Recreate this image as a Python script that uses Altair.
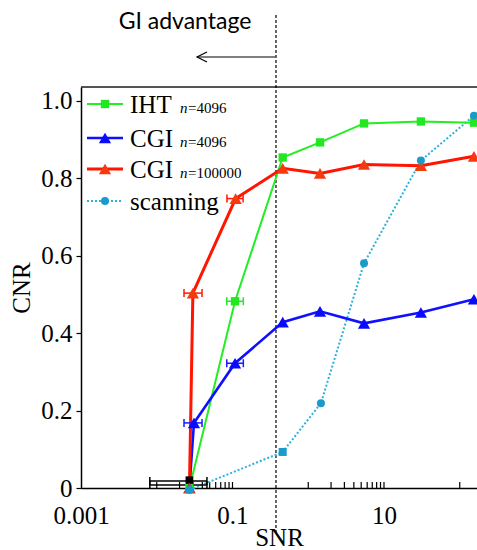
import altair as alt
import pandas as pd

# ---- data ----
iht_x = [0.027, 0.108, 0.46, 1.43, 5.45, 30.7, 154]
iht_y = [0.0, 0.482, 0.853, 0.892, 0.941, 0.946, 0.943]

cgi4_x = [0.027, 0.031, 0.108, 0.46, 1.43, 5.45, 30.7, 154]
cgi4_y = [0.0, 0.168, 0.322, 0.428, 0.456, 0.425, 0.453, 0.487]

cgi1e5_x = [0.027, 0.030, 0.110, 0.46, 1.43, 5.45, 30.7, 154]
cgi1e5_y = [0.0, 0.503, 0.747, 0.825, 0.812, 0.835, 0.832, 0.856]

scan_x = [0.027, 0.46, 1.47, 5.45, 30.7, 154]
scan_y = [-0.005, 0.093, 0.219, 0.580, 0.845, 0.961]
scan_shape = ["circle", "square", "circle", "circle", "circle", "circle"]

# horizontal error bars
err_lo = [0.0229, 0.0229, 0.084, 0.084, 0.0845, 0.0081, 0.0081]
err_hi = [0.0396, 0.0396, 0.139, 0.139, 0.138, 0.046, 0.046]
err_y = [0.503, 0.168, 0.482, 0.322, 0.747, 0.018, 0.008]
err_col = ["#ff1a00", "#1a1aff", "#22e822", "#1a1aff", "#ff1a00", "#000000", "#000000"]

x_label_values = [0.001, 0.1, 10]
x_minor_ticks = [0.01, 0.02, 0.03, 0.04, 0.05, 0.06, 0.07, 0.08, 0.09, 0.1,
                 1, 2, 3, 4, 5, 6, 7, 8, 9, 10, 100]
y_label_values = [0, 0.2, 0.4, 0.6, 0.8, 1.0]
threshold_snr = [0.375]

legend_main = ["IHT", "CGI", "CGI", "scanning"]
legend_sub = ["=4096", "=4096", "=100000", ""]

# ---- layout ----
W, H = 396, 401
SERIF = "Liberation Serif"
xs = alt.Scale(type="log", domain=[0.001, 169], nice=False)
ys = alt.Scale(domain=[0, 1.035], nice=False, zero=False)

GREEN, BLUE, RED, CYAN_L, CYAN_M = "#22ee22", "#1010ff", "#ff1500", "#2ab2dc", "#1a9bcc"

XAXIS = alt.Axis(
    values=x_label_values, format="~g", ticks=False, tickSize=0, grid=False,
    domainColor="black", domainWidth=1.5,
    labelFont=SERIF, labelFontSize=25, labelColor="black",
    labelBaseline="alphabetic", labelPadding=35, labelFlush=False,
    title="SNR", titleFont=SERIF, titleFontSize=25, titleFontWeight="normal",
    titleColor="black", titleBaseline="alphabetic", titleY=57)
YAXIS = alt.Axis(
    values=y_label_values,
    labelExpr="datum.value == 0 ? '0' : format(datum.value, '.1f')",
    ticks=True, tickSize=5, tickColor="black", tickWidth=1.2, grid=False,
    domainColor="black", domainWidth=1.5,
    labelFont=SERIF, labelFontSize=25, labelColor="black", labelPadding=4,
    labelFlush=False,
    title="CNR", titleFont=SERIF, titleFontSize=25, titleFontWeight="normal",
    titleColor="black", titlePadding=6)


def X(f):
    return alt.X(f, type="quantitative", scale=xs, axis=XAXIS)


def Y(f):
    return alt.Y(f, type="quantitative", scale=ys, axis=YAXIS)


minor = alt.Chart(pd.DataFrame({"v": x_minor_ticks})).mark_rule(
    color="black", strokeWidth=1.2).encode(
    x=X("v"), y=alt.value(H), y2=alt.value(H - 6))

top_frame = alt.Chart(pd.DataFrame({"a": [0]})).mark_rule(
    color="#222", strokeWidth=1.5).encode(
    x=alt.value(0), x2=alt.value(W), y=alt.value(0))

thr = alt.Chart(pd.DataFrame({"v": threshold_snr})).mark_rule(
    color="black", strokeWidth=1.2, strokeDash=[3, 2]).encode(
    x=X("v"), y=alt.value(-72), y2=alt.value(448))

gi_text = alt.Chart(pd.DataFrame({"t": ["GI advantage"]})).mark_text(
    font="Lato", fontSize=23, color="black", align="center", baseline="middle").encode(
    text="t:N", x=alt.value(104), y=alt.value(-65))

arrow_line = alt.Chart(pd.DataFrame({"a": [0]})).mark_rule(
    color="black", strokeWidth=1.2).encode(
    x=alt.value(116), x2=alt.value(194), y=alt.value(-30))
arrow_head = alt.Chart(pd.DataFrame({"a": [0]})).mark_point(
    shape="M1,-1L-1,0L1,1", filled=False, size=100, color="black",
    strokeWidth=1.2, opacity=1).encode(x=alt.value(121), y=alt.value(-30))

# error bars
err_df = pd.DataFrame({"lo": err_lo, "hi": err_hi, "y": err_y, "c": err_col})
err_rule = alt.Chart(err_df).mark_rule(strokeWidth=1.5).encode(
    x=X("lo"), x2="hi:Q", y=Y("y"), color=alt.Color("c:N", scale=None))
err_cap_lo = alt.Chart(err_df).mark_point(
    shape="M0,-1L0,1", filled=False, size=64, strokeWidth=1.5, opacity=1).encode(
    x=X("lo"), y=Y("y"), color=alt.Color("c:N", scale=None))
err_cap_hi = alt.Chart(err_df).mark_point(
    shape="M0,-1L0,1", filled=False, size=64, strokeWidth=1.5, opacity=1).encode(
    x=X("hi"), y=Y("y"), color=alt.Color("c:N", scale=None))

# black blob at the bottom cluster
blob = alt.Chart(pd.DataFrame({"x": [0.027], "y": [0.02]})).mark_point(
    shape="square", filled=True, size=60, color="black", opacity=1).encode(
    x=X("x"), y=Y("y"))


def series(xv, yv, lcolor, mcolor, shape, size, width, dash=None):
    df = pd.DataFrame({"snr": xv, "cnr": yv})
    kw = dict(color=lcolor, strokeWidth=width)
    if dash:
        kw["strokeDash"] = dash
    line = alt.Chart(df).mark_line(**kw).encode(x=X("snr"), y=Y("cnr"))
    pts = alt.Chart(df).mark_point(shape=shape, filled=True, size=size,
                                   color=mcolor, opacity=1).encode(x=X("snr"), y=Y("cnr"))
    return line, pts


iht_l, iht_p = series(iht_x, iht_y, GREEN, "#22e822", "square", 70, 2)
c4_l, c4_p = series(cgi4_x, cgi4_y, BLUE, "#0a0aff", "triangle-up", 150, 2.6)
c5_l, c5_p = series(cgi1e5_x, cgi1e5_y, RED, "#f53a10", "triangle-up", 150, 3)

scan_df = pd.DataFrame({"snr": scan_x, "cnr": scan_y, "shp": scan_shape})
scan_l = alt.Chart(scan_df).mark_line(color=CYAN_L, strokeWidth=2, strokeDash=[2, 2]).encode(
    x=X("snr"), y=Y("cnr"))
scan_p = alt.Chart(scan_df).mark_point(filled=True, size=64, color=CYAN_M, opacity=1).encode(
    x=X("snr"), y=Y("cnr"), shape=alt.Shape("shp:N", scale=None))

# custom legend
rows = [17, 51, 82, 114]
leg_line_col = [GREEN, BLUE, RED, CYAN_L]
leg_mark_col = ["#22e822", "#0a0aff", "#f53a10", CYAN_M]
leg_shape = ["square", "triangle-up", "triangle-up", "circle"]
leg_size = [70, 150, 150, 64]
leg_width = [2, 2.6, 3, 2]
legend_layers = []
one = pd.DataFrame({"a": [0]})
for i, ry in enumerate(rows):
    kw = dict(color=leg_line_col[i], strokeWidth=leg_width[i])
    if i == 3:
        kw["strokeDash"] = [2, 2]
    legend_layers.append(alt.Chart(one).mark_rule(**kw).encode(
        x=alt.value(6), x2=alt.value(42), y=alt.value(ry)))
    legend_layers.append(alt.Chart(one).mark_point(
        shape=leg_shape[i], filled=True, size=leg_size[i], color=leg_mark_col[i],
        opacity=1).encode(x=alt.value(24), y=alt.value(ry)))
    legend_layers.append(alt.Chart(pd.DataFrame({"t": [legend_main[i]]})).mark_text(
        font=SERIF, fontSize=25, color="black", align="left", baseline="alphabetic").encode(
        text="t:N", x=alt.value(49), y=alt.value(ry + 9)))
    if legend_sub[i]:
        legend_layers.append(alt.Chart(pd.DataFrame({"t": ["n"]})).mark_text(
            font=SERIF, fontSize=15, fontStyle="italic", color="black",
            align="left", baseline="alphabetic").encode(
            text="t:N", x=alt.value(99), y=alt.value(ry + 9)))
        legend_layers.append(alt.Chart(pd.DataFrame({"t": [legend_sub[i]]})).mark_text(
            font=SERIF, fontSize=15, color="black",
            align="left", baseline="alphabetic").encode(
            text="t:N", x=alt.value(107), y=alt.value(ry + 9)))

chart = alt.layer(
    minor, top_frame, thr, gi_text, arrow_line, arrow_head,
    scan_l, iht_l, c4_l, c5_l,
    err_rule, err_cap_lo, err_cap_hi,
    blob, iht_p, c4_p, c5_p, scan_p,
    *legend_layers,
).properties(
    width=W, height=H,
    autosize=alt.AutoSizeParams(type="none"),
    padding={"left": 81, "top": 87, "right": 0, "bottom": 62},
).configure_view(strokeWidth=0).configure(background="white")

chart.save("out.html", embed_options={"renderer": "svg", "actions": False})
